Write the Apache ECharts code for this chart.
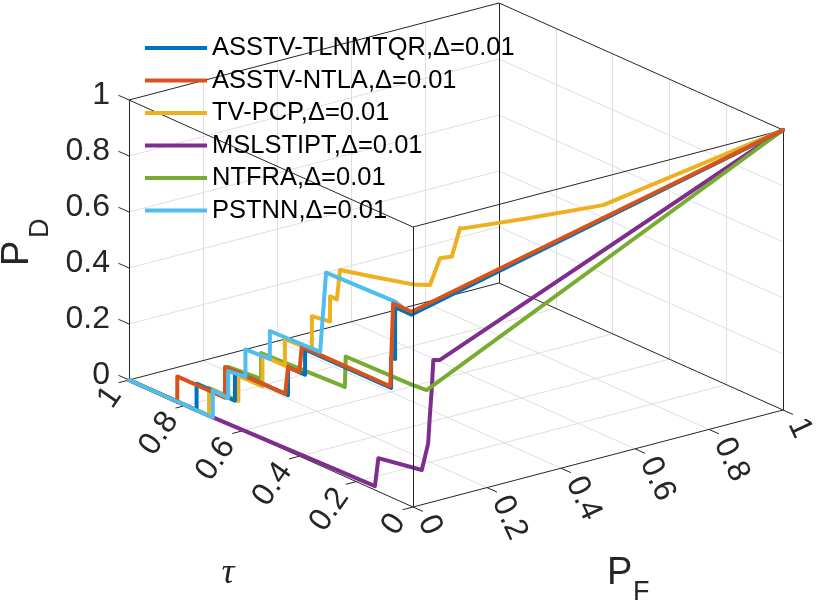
<!DOCTYPE html>
<html>
<head>
<meta charset="utf-8">
<title>ROC 3D</title>
<script src="https://cdn.jsdelivr.net/npm/echarts@6/dist/echarts.min.js"></script>
<style>
  html, body { margin: 0; padding: 0; background: #fff; }
  #chart { width: 819px; height: 607px; }
</style>
</head>
<body>
<div id="chart"></div>
<script>
// 图例名称与颜色
const seriesNames = ['ASSTV-TLNMTQR,Δ=0.01', 'ASSTV-NTLA,Δ=0.01', 'TV-PCP,Δ=0.01', 'MSLSTIPT,Δ=0.01', 'NTFRA,Δ=0.01', 'PSTNN,Δ=0.01']
const seriesColors = ['#0072BD', '#D95319', '#EDB120', '#7E2F8E', '#77AC30', '#4DBEEE']

// 坐标轴刻度
const tickValues = [0, 0.2, 0.4, 0.6, 0.8, 1]
const tickLabels = ['0', '0.2', '0.4', '0.6', '0.8', '1']
const gridValues = [0.2, 0.4, 0.6, 0.8]

// 曲线数据, 每个点为 [tau, P_F, P_D]
const asstvTlnmtqr = [
  [1, 0, 0], [0.762, 0, 0], [0.762, 0, 0.095], [0.627, 0, 0.095], [0.627, 0, 0.2],
  [0.44, 0, 0.2], [0.44, 0, 0.3], [0.38, 0, 0.3], [0.38, 0, 0.39], [0.077, 0, 0.39],
  [0.077, 0, 0.5], [0.063, 0, 0.5], [0.063, 0, 0.685], [0.005, 0, 0.685], [0, 1, 1]
]
const asstvNtla = [
  [1, 0, 0], [0.83, 0, 0], [0.83, 0, 0.09], [0.662, 0, 0.09], [0.662, 0, 0.2],
  [0.45, 0, 0.2], [0.44, 0, 0.3], [0.4, 0, 0.3], [0.392, 0, 0.395], [0.08, 0, 0.395],
  [0.07, 0, 0.695], [0.005, 0, 0.695], [0, 1, 1]
]
const tvPcp = [
  [1, 0, 0], [0.718, 0, 0], [0.718, 0, 0.1], [0.615, 0, 0.1], [0.615, 0, 0.19],
  [0.53, 0, 0.19], [0.53, 0, 0.3], [0.451, 0, 0.3], [0.451, 0, 0.395], [0.356, 0, 0.4],
  [0.356, 0, 0.52], [0.292, 0, 0.53], [0.292, 0, 0.62], [0.268, 0, 0.62], [0.257, 0, 0.73],
  [0.175, 0, 0.75], [0.081, 0, 0.774], [0, 0, 0.795], [0, 0.046, 0.777], [0, 0.073, 0.863],
  [0, 0.105, 0.858], [0, 0.127, 0.952], [0, 0.136, 0.948], [0, 0.307, 0.924], [0, 0.514, 0.9],
  [0, 1, 1]
]
const mslstipt = [
  [1, 0, 0], [0.715, 0, 0], [0.134, 0, 0.014], [0.122, 0, 0.119], [0.037, 0.02, 0.12],
  [0.0055, 0.028, 0.12], [0, 0.041, 0.213], [0, 0.046, 0.319], [0, 0.0505, 0.4],
  [0, 0.055, 0.506], [0, 0.073, 0.5], [0, 1, 1]
]
const ntfra = [
  [1, 0, 0], [0.715, 0, 0], [0.715, 0, 0.094], [0.651, 0, 0.094], [0.651, 0, 0.205],
  [0.535, 0, 0.215], [0.535, 0, 0.307], [0.24, 0, 0.32], [0.237, 0, 0.43],
  [0.005, 0, 0.435], [0, 0.037, 0.405], [0, 1, 1]
]
const pstnn = [
  [1, 0, 0], [0.705, 0, 0], [0.705, 0, 0.097], [0.651, 0, 0.094], [0.651, 0, 0.19],
  [0.59, 0, 0.198], [0.59, 0, 0.295], [0.504, 0, 0.3], [0.504, 0, 0.4], [0.327, 0, 0.406],
  [0.306, 0, 0.698], [0.063, 0, 0.705], [0.005, 0, 0.685], [0, 1, 1]
]

// 视角: 三维点投影到画布平面
const ORIGIN = [413, 507]      // tau=0, P_F=0, P_D=0
const TAU_DIR = [-284, -127]
const PF_DIR = [370, -97]
const PD_DIR = [0, -280]

function project(p) {
  return [
    ORIGIN[0] + TAU_DIR[0] * p[0] + PF_DIR[0] * p[1] + PD_DIR[0] * p[2],
    ORIGIN[1] + TAU_DIR[1] * p[0] + PF_DIR[1] * p[1] + PD_DIR[1] * p[2]
  ]
}

const segment = (a, b) => ({ coords: [project(a), project(b)] })

// 网格线 (底面 + 两个背面)
const gridLines = []
gridValues.forEach(v => {
  gridLines.push(segment([v, 0, 0], [v, 1, 0]))
  gridLines.push(segment([0, v, 0], [1, v, 0]))
  gridLines.push(segment([1, v, 0], [1, v, 1]))
  gridLines.push(segment([1, 0, v], [1, 1, v]))
  gridLines.push(segment([v, 1, 0], [v, 1, 1]))
  gridLines.push(segment([0, 1, v], [1, 1, v]))
})

// 外框
const boxLines = [
  segment([0, 0, 0], [1, 0, 0]), segment([0, 0, 0], [0, 1, 0]),
  segment([1, 0, 0], [1, 1, 0]), segment([0, 1, 0], [1, 1, 0]),
  segment([1, 0, 0], [1, 0, 1]), segment([1, 1, 0], [1, 1, 1]),
  segment([0, 1, 0], [0, 1, 1]), segment([1, 0, 1], [1, 1, 1]),
  segment([0, 1, 1], [1, 1, 1]), segment([1, 0, 1], [0, 0, 1]),
  segment([0, 0, 1], [0, 1, 1])
]
const frontLines = [segment([0, 0, 0], [0, 0, 1])]

// 刻度线
const tickLines = []
tickValues.forEach(v => {
  tickLines.push(segment([1, 0, v], [1.037, 0, v]))
  tickLines.push(segment([v, 0, 0], [v, -0.028, 0]))
  tickLines.push(segment([0, v, 0], [-0.035, v, 0]))
})

const shift = (p, d) => [p[0] + d[0], p[1] + d[1]]
const FONT = "'Liberation Sans', Arial, sans-serif"
const TEXT_COLOR = '#262626'

function labelSeries(points, label) {
  return {
    type: 'scatter',
    symbolSize: 0,
    silent: true,
    z: 11,
    data: points,
    itemStyle: { color: TEXT_COLOR, opacity: 1 },
    label: Object.assign({
      show: true,
      position: 'inside',
      formatter: '{b}',
      fontSize: 32,
      fontFamily: FONT,
      color: TEXT_COLOR,
      opacity: 1,
      textBorderWidth: 0,
      textBorderColor: 'transparent'
    }, label)
  }
}

const pdLabels = tickValues.map((v, i) => ({ name: tickLabels[i], value: shift(project([1, 0, v]), [-19, -4.5]) }))
const tauLabels = tickValues.map((v, i) => ({ name: tickLabels[i], value: shift(project([v, 0, 0]), [-14, 10]) }))
const pfLabels = tickValues.map((v, i) => ({ name: tickLabels[i], value: shift(project([0, v, 0]), [13, 10]) }))

function curve(name, color, data, z) {
  return {
    name,
    type: 'line',
    data: data.map(project),
    showSymbol: false,
    silent: true,
    z,
    itemStyle: { color },
    lineStyle: { color, width: 4, cap: 'round', join: 'round' }
  }
}

function lines(data, color, z) {
  return {
    type: 'lines',
    coordinateSystem: 'cartesian2d',
    silent: true,
    z,
    data,
    lineStyle: { color, width: 1, opacity: 1, curveness: 0 }
  }
}

const chart = echarts.init(document.getElementById('chart'))
chart.setOption({
  animation: false,
  backgroundColor: '#fff',
  grid: { left: 0, right: 0, top: 0, bottom: 0 },
  xAxis: { type: 'value', min: 0, max: 819, show: false },
  yAxis: { type: 'value', min: 0, max: 607, inverse: true, show: false },
  legend: {
    orient: 'vertical',
    left: 140,
    top: 30,
    icon: 'rect',
    itemWidth: 62,
    itemHeight: 4,
    itemGap: 6.5,
    textStyle: { fontSize: 25.5, fontFamily: FONT, color: '#000', lineHeight: 26 },
    data: seriesNames
  },
  graphic: [
    { type: 'text', x: 17.5, y: 266, rotation: Math.PI / 2, style: { text: 'P', font: `38px ${FONT}`, fill: TEXT_COLOR, textAlign: 'left', textVerticalAlign: 'middle' } },
    { type: 'text', x: 40.5, y: 238, rotation: Math.PI / 2, style: { text: 'D', font: `27px ${FONT}`, fill: TEXT_COLOR, textAlign: 'left', textVerticalAlign: 'middle' } },
    { type: 'text', x: 228, y: 574, style: { text: 'τ', font: `italic 36px 'Liberation Serif', serif`, fill: TEXT_COLOR, textAlign: 'center', textVerticalAlign: 'middle' } },
    { type: 'text', x: 607, y: 573.5, style: { text: 'P', font: `38px ${FONT}`, fill: TEXT_COLOR, textAlign: 'left', textVerticalAlign: 'middle' } },
    { type: 'text', x: 633, y: 593, style: { text: 'F', font: `27px ${FONT}`, fill: TEXT_COLOR, textAlign: 'left', textVerticalAlign: 'middle' } }
  ],
  series: [
    lines(gridLines, '#dfdfdf', 1),
    lines(boxLines, '#262626', 2),
    lines(tickLines, '#262626', 2),
    curve(seriesNames[3], seriesColors[3], mslstipt, 3),
    curve(seriesNames[4], seriesColors[4], ntfra, 4),
    curve(seriesNames[2], seriesColors[2], tvPcp, 5),
    curve(seriesNames[5], seriesColors[5], pstnn.slice(10), 6),
    curve(seriesNames[0], seriesColors[0], asstvTlnmtqr, 7),
    curve(seriesNames[1], seriesColors[1], asstvNtla, 8),
    curve(seriesNames[5], seriesColors[5], pstnn.slice(0, 11), 9),
    lines(frontLines, '#262626', 10),
    labelSeries(pdLabels, { align: 'right', verticalAlign: 'middle' }),
    labelSeries(tauLabels, { align: 'right', verticalAlign: 'middle', rotate: 55 }),
    labelSeries(pfLabels, { align: 'left', verticalAlign: 'middle', rotate: -65 })
  ]
})
</script>
</body>
</html>
